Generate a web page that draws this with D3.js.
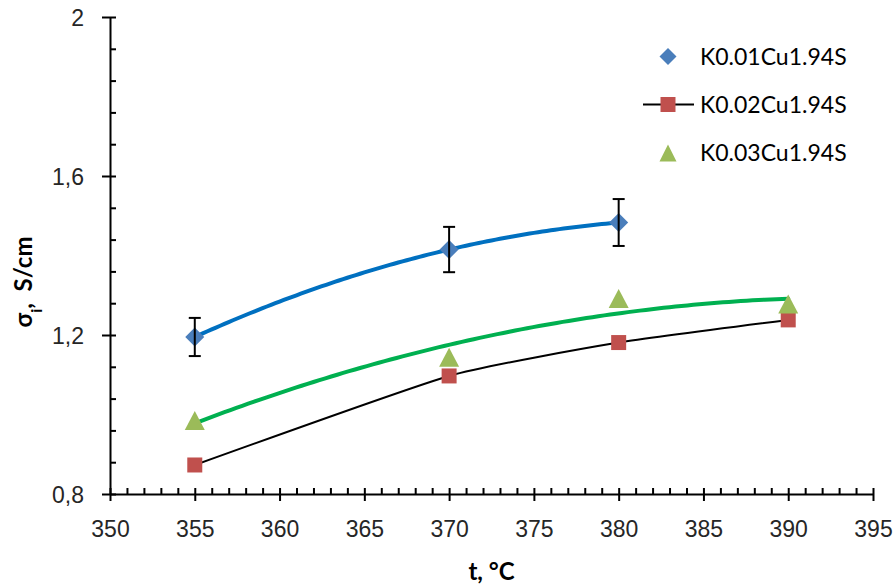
<!DOCTYPE html>
<html>
<head>
<meta charset="utf-8">
<script src="https://cdn.jsdelivr.net/npm/d3@7"></script>
<style>
  html, body { margin: 0; padding: 0; background: #fff; }
  svg { display: block; font-family: Lato, "Open Sans", sans-serif; }
</style>
</head>
<body>
<svg id="chart" width="893" height="585"></svg>
<script>
// Temperatures, °C
const temps = [355, 370, 380, 390];
const tempsK001 = [355, 370, 380];

// Ionic conductivity σi, S/cm
const sigmaK001 = [1.195, 1.415, 1.483];
const errK001 = [0.048, 0.057, 0.059];
const sigmaK002 = [0.873, 1.097, 1.181, 1.238];
const sigmaK003 = [0.985, 1.144, 1.292, 1.278];

const seriesNames = ["K0.01Cu1.94S", "K0.02Cu1.94S", "K0.03Cu1.94S"];

const xMajor = [350, 355, 360, 365, 370, 375, 380, 385, 390, 395];
const yMajor = [0.8, 1.2, 1.6, 2.0];
const yTickLabels = ["0,8", "1,2", "1,6", "2"];

const W = 893, H = 585;
const margin = { left: 110, top: 17, right: 20, bottom: 91 };

const svg = d3.select("#chart");
const x = d3.scaleLinear().domain([350, 395]).range([margin.left, W - margin.right]);
const y = d3.scaleLinear().domain([0.8, 2.0]).range([H - margin.bottom, margin.top]);

const xMinor = d3.range(350, 395.001, 1);
const yMinor = d3.range(0, 16).map(i => 0.8 + i * 0.08);

// ---- axes ----
const axisColor = "#000";
const gx = svg.append("g").attr("transform", `translate(0,${y(0.8)})`);
gx.call(d3.axisBottom(x).tickValues(xMajor).tickSize(7).tickSizeOuter(0).tickFormat(d3.format("d")));
gx.selectAll("text").attr("y", 43).attr("dy", null)
  .style("font-size", "23px").attr("fill", "#262626");
const gxMinor = svg.append("g").attr("transform", `translate(0,${y(0.8)})`);
gxMinor.call(d3.axisBottom(x).tickValues(xMinor).tickSize(-6).tickFormat(""));
gxMinor.select(".domain").remove();

const gy = svg.append("g").attr("transform", `translate(${x(350)},0)`);
gy.call(d3.axisLeft(y).tickValues(yMajor).tickSize(8).tickSizeOuter(0).tickPadding(18)
  .tickFormat((d, i) => yTickLabels[i]));
gy.selectAll("text").attr("dy", "0.36em").style("font-size", "23px").attr("fill", "#262626");
const gyMinor = svg.append("g").attr("transform", `translate(${x(350)},0)`);
gyMinor.call(d3.axisLeft(y).tickValues(yMinor).tickSize(-6).tickFormat(""));
gyMinor.select(".domain").remove();

svg.selectAll(".domain, .tick line").attr("stroke", axisColor).attr("stroke-width", 2);

// ---- axis titles ----
svg.append("text")
  .attr("x", (x(350) + x(395)) / 2).attr("y", 580)
  .attr("text-anchor", "middle")
  .style("font-size", "24px").style("font-weight", "bold")
  .text("t, °C");

const yTitle = svg.append("text")
  .attr("transform", "translate(32,282) rotate(-90)")
  .attr("text-anchor", "middle")
  .style("font-size", "24px").style("font-weight", "bold");
yTitle.append("tspan").text("σ");
yTitle.append("tspan").attr("baseline-shift", "sub").style("font-size", "16px").text("i");
yTitle.append("tspan").text(",\u00a0 S/cm");

// ---- quadratic least-squares trendline ----
function quadFit(xs, ys) {
  const x0 = d3.mean(xs);
  const u = xs.map(v => v - x0);
  const s = k => d3.sum(u, v => Math.pow(v, k));
  const t = k => d3.sum(u, (v, i) => Math.pow(v, k) * ys[i]);
  const A = [[xs.length, s(1), s(2)], [s(1), s(2), s(3)], [s(2), s(3), s(4)]];
  const b = [t(0), t(1), t(2)];
  // Gaussian elimination
  for (let i = 0; i < 3; i++) {
    for (let j = i + 1; j < 3; j++) {
      const f = A[j][i] / A[i][i];
      for (let k = i; k < 3; k++) A[j][k] -= f * A[i][k];
      b[j] -= f * b[i];
    }
  }
  const c = [0, 0, 0];
  for (let i = 2; i >= 0; i--) {
    let acc = b[i];
    for (let k = i + 1; k < 3; k++) acc -= A[i][k] * c[k];
    c[i] = acc / A[i][i];
  }
  return v => c[0] + c[1] * (v - x0) + c[2] * (v - x0) * (v - x0);
}

function trendPoints(xs, ys) {
  const f = quadFit(xs, ys);
  const lo = d3.min(xs), hi = d3.max(xs);
  return d3.range(0, 101).map(i => {
    const v = lo + (hi - lo) * i / 100;
    return [v, f(v)];
  });
}

const lineGen = d3.line().x(d => x(d[0])).y(d => y(d[1]));

// K0.03 trendline (green)
svg.append("path")
  .attr("d", lineGen(trendPoints(temps, sigmaK003)))
  .attr("fill", "none").attr("stroke", "#00B050").attr("stroke-width", 4)
  .attr("stroke-linecap", "round");

// K0.02 smoothed connecting line (black)
svg.append("path")
  .attr("d", d3.line().x(d => x(d[0])).y(d => y(d[1])).curve(d3.curveCardinal.tension(0.5))(temps.map((t, i) => [t, sigmaK002[i]])))
  .attr("fill", "none").attr("stroke", "#000").attr("stroke-width", 2);

// K0.01 trendline (blue)
svg.append("path")
  .attr("d", lineGen(trendPoints(tempsK001, sigmaK001)))
  .attr("fill", "none").attr("stroke", "#0070C0").attr("stroke-width", 4)
  .attr("stroke-linecap", "round");

// ---- marker shapes ----
const diamond = (cx, cy, r) => `M${cx},${cy - r}L${cx + r},${cy}L${cx},${cy + r}L${cx - r},${cy}Z`;
const square = (cx, cy, h) => `M${cx - h},${cy - h}H${cx + h}V${cy + h}H${cx - h}Z`;
const triangle = (cx, cy, w, h) => `M${cx},${cy - h / 2}L${cx + w / 2},${cy + h / 2}L${cx - w / 2},${cy + h / 2}Z`;

const blue = "#4A7EBB", red = "#C0504D", green = "#9BBB59";

// red squares
svg.append("g").selectAll("path").data(temps).join("path")
  .attr("d", (t, i) => square(x(t), y(sigmaK002[i]), 7.5))
  .attr("fill", red);

// green triangles
svg.append("g").selectAll("path").data(temps).join("path")
  .attr("d", (t, i) => triangle(x(t), y(sigmaK003[i]), 20, 19))
  .attr("fill", green);

// blue diamonds
svg.append("g").selectAll("path").data(tempsK001).join("path")
  .attr("d", (t, i) => diamond(x(t), y(sigmaK001[i]), 9.5))
  .attr("fill", blue);

// error bars for K0.01
const eb = svg.append("g").attr("stroke", "#000").attr("stroke-width", 2);
tempsK001.forEach((t, i) => {
  const cx = x(t), top = y(sigmaK001[i] + errK001[i]), bot = y(sigmaK001[i] - errK001[i]);
  eb.append("line").attr("x1", cx).attr("x2", cx).attr("y1", top).attr("y2", bot);
  eb.append("line").attr("x1", cx - 6).attr("x2", cx + 6).attr("y1", top).attr("y2", top);
  eb.append("line").attr("x1", cx - 6).attr("x2", cx + 6).attr("y1", bot).attr("y2", bot);
});

// ---- legend ----
const legend = svg.append("g");
const legRows = [56.5, 104.5, 153];
const legX = 668;
legend.append("path").attr("d", diamond(legX, legRows[0], 8.5)).attr("fill", blue);
legend.append("line").attr("x1", 643).attr("x2", 694).attr("y1", legRows[1]).attr("y2", legRows[1])
  .attr("stroke", "#000").attr("stroke-width", 2);
legend.append("path").attr("d", square(legX, legRows[1], 7.5)).attr("fill", red);
legend.append("path").attr("d", triangle(legX, legRows[2], 17, 17)).attr("fill", green);
legend.selectAll("text.leg").data(seriesNames).join("text")
  .attr("class", "leg")
  .attr("x", 700).attr("y", (d, i) => legRows[i]).attr("dy", "0.36em")
  .style("font-size", "23px").attr("fill", "#000")
  .text(d => d);
</script>
</body>
</html>
